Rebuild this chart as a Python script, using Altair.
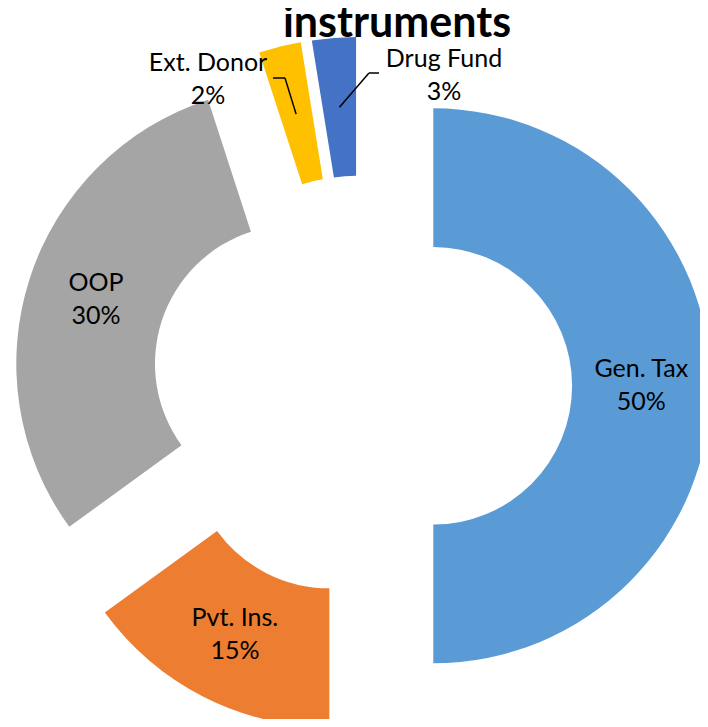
import math
import altair as alt
import pandas as pd

# ---- data ----
categories = ["Gen. Tax", "Pvt. Ins.", "OOP", "Ext. Donor", "Drug Fund"]
shares = [50, 15, 30, 2.45, 2.55]
colors = ["#5B9BD5", "#ED7D31", "#A5A5A5", "#FFC000", "#4472C4"]
title_text = "instruments"

# ---- layout (chart pixel coordinates) ----
CX, CY = 353.8, 377.8
R_OUT, R_IN = 277.5, 138.8
EXPLODE = 71.5
R_LABEL = 208
FONT = "Lato"
LINE_H = 33
outside = {
    "Ext. Donor": dict(lx=200, ly=71, ex=277, ey=70, tx=265, ty=70),
    "Drug Fund": dict(lx=436, ly=67, ex=361, ey=65, tx=371, ty=65),
}

df = pd.DataFrame({"category": categories, "share": shares, "order": list(range(len(categories)))})
for k in ["lx", "ly", "ex", "ey", "tx", "ty"]:
    df[k] = [outside[c][k] if c in outside else None for c in categories]

base = alt.Chart(df).transform_window(
    cum="sum(share)", sort=[alt.SortField("order")], frame=[None, 0]
).transform_calculate(
    start="datum.cum - datum.share",
    mid="(datum.cum - datum.share / 2) / 100 * 2 * PI",
    cx=f"{CX} + {EXPLODE} * sin(datum.mid)",
    cy=f"{CY} - {EXPLODE} * cos(datum.mid)",
    gx=f"datum.cx + {R_LABEL} * sin(datum.mid)",
    gy=f"datum.cy - {R_LABEL} * cos(datum.mid)",
    labx="isValid(datum.lx) ? datum.lx : datum.gx",
    laby="isValid(datum.ly) ? datum.ly : datum.gy",
    label="datum.category + '\\n' + format(datum.share / 100, '.0%')",
)

arcs = base.mark_arc(outerRadius=R_OUT, innerRadius=R_IN).encode(
    theta=alt.Theta("start:Q", scale=alt.Scale(domain=[0, 100], range=[0, 2 * math.pi]), stack=False),
    theta2="cum:Q",
    x=alt.X("cx:Q", scale=None),
    y=alt.Y("cy:Q", scale=None),
    color=alt.Color("category:N", scale=alt.Scale(domain=categories, range=colors), legend=None),
)

labels = base.mark_text(
    font=FONT, fontSize=25, lineBreak="\n", lineHeight=LINE_H, baseline="middle", align="center",
    color="black", dy=-LINE_H / 2
).encode(
    x=alt.X("labx:Q", scale=None),
    y=alt.Y("laby:Q", scale=None),
    text="label:N",
)

lead1 = base.transform_filter("isValid(datum.ex)").mark_rule(color="black", strokeWidth=1.5).encode(
    x=alt.X("gx:Q", scale=None), y=alt.Y("gy:Q", scale=None),
    x2="ex:Q", y2="ey:Q",
)
lead2 = base.transform_filter("isValid(datum.ex)").mark_rule(color="black", strokeWidth=1.5).encode(
    x=alt.X("ex:Q", scale=None), y=alt.Y("ey:Q", scale=None),
    x2="tx:Q", y2="ty:Q",
)

title = alt.Chart(pd.DataFrame({"t": [title_text]})).mark_text(
    font=FONT, fontSize=43, fontWeight="bold", align="center", baseline="alphabetic", color="black"
).encode(x=alt.value(389), y=alt.value(29), text="t:N")

chart = alt.layer(arcs, lead1, lead2, labels, title).properties(
    width=692, height=711, autosize=alt.AutoSizeParams(type="none"), padding=0
).configure_view(stroke=None)

chart.save("out.html", embed_options={"renderer": "svg", "actions": False})
